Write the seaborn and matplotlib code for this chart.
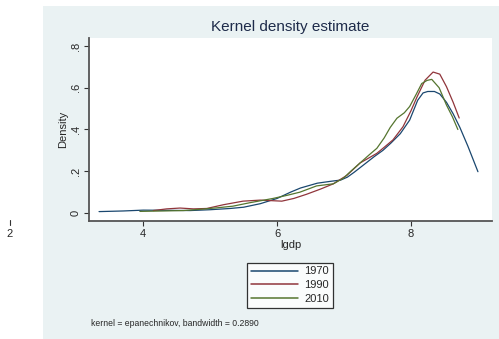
"""
plot.py - Stata-style kernel density chart of lgdp by year
"""

import matplotlib

matplotlib.use("Agg")

import matplotlib.pyplot as plt
from matplotlib.patches import Rectangle
from matplotlib.lines import Line2D
import pandas as pd
import seaborn as sns


# density curves
x_1970 = [3.34, 3.7, 4.0, 4.4, 4.7, 5.0, 5.3, 5.5, 5.75, 6.0, 6.2, 6.35, 6.6, 6.8, 6.95,
          7.05, 7.15, 7.25, 7.35, 7.45, 7.58, 7.7, 7.84, 7.98, 8.1, 8.18, 8.25, 8.35,
          8.43, 8.53, 8.63, 8.73, 8.85, 9.0]
d_1970 = [0.007, 0.010, 0.014, 0.013, 0.012, 0.016, 0.022, 0.028, 0.045, 0.07, 0.10, 0.12,
          0.143, 0.152, 0.158, 0.172, 0.195, 0.22, 0.245, 0.27, 0.30, 0.335, 0.38, 0.445,
          0.54, 0.575, 0.582, 0.582, 0.57, 0.53, 0.475, 0.41, 0.32, 0.198]

x_1990 = [4.15, 4.35, 4.55, 4.75, 4.95, 5.2, 5.49, 5.75, 6.07, 6.25, 6.44, 6.65, 6.84, 7.04,
          7.24, 7.35, 7.49, 7.6, 7.73, 7.88, 8.0, 8.09, 8.21, 8.33, 8.43, 8.53, 8.63, 8.72]
d_1990 = [0.012, 0.02, 0.024, 0.02, 0.022, 0.04, 0.057, 0.062, 0.057, 0.07, 0.09, 0.115,
          0.14, 0.18, 0.24, 0.26, 0.286, 0.315, 0.35, 0.413, 0.49, 0.556, 0.636, 0.675,
          0.665, 0.605, 0.53, 0.455]

x_2010 = [3.95, 4.3, 4.6, 4.85, 5.1, 5.34, 5.6, 5.94, 6.15, 6.34, 6.59, 6.84, 6.99, 7.1,
          7.24, 7.38, 7.49, 7.6, 7.69, 7.79, 7.9, 7.98, 8.08, 8.16, 8.24, 8.31, 8.42, 8.53,
          8.62, 8.70]
d_2010 = [0.008, 0.01, 0.012, 0.018, 0.025, 0.033, 0.05, 0.07, 0.085, 0.10, 0.13, 0.14,
          0.167, 0.2, 0.24, 0.28, 0.31, 0.36, 0.41, 0.454, 0.48, 0.51, 0.57, 0.62, 0.635,
          0.64, 0.60, 0.517, 0.46, 0.40]

years = ["1970", "1990", "2010"]
x_ticks = [4, 6, 8]
y_ticks = [0, 0.2, 0.4, 0.6, 0.8]
y_tick_labels = ["0", ".2", ".4", ".6", ".8"]

COLORS = ["#1a476f", "#90353b", "#55752f"]
REGION_BG = "#eaf2f3"


def build_frame():
    parts = []
    for year, xs, ds in zip(years, [x_1970, x_1990, x_2010], [d_1970, d_1990, d_2010]):
        parts.append(pd.DataFrame({"lgdp": xs, "Density": ds, "year": year}))
    return pd.concat(parts, ignore_index=True)


def main():
    sns.set_style("white")
    plt.rcParams["font.family"] = ["Liberation Sans", "DejaVu Sans"]

    df = build_frame()

    fig = plt.figure(figsize=(4.99, 3.39), dpi=100, facecolor="white")
    fig.patches.append(Rectangle((43 / 499, 0), 456 / 499, 333 / 339,
                                 transform=fig.transFigure, facecolor=REGION_BG,
                                 edgecolor="none", zorder=-10))

    ax = fig.add_axes([89 / 499, 1 - 221 / 339, 403 / 499, 183 / 339])
    ax.set_facecolor("white")
    ax.set_zorder(1)

    sns.lineplot(data=df, x="lgdp", y="Density", hue="year", palette=COLORS,
                 estimator=None, sort=False, linewidth=0.9, ax=ax)

    ax.set_xlim(3.19, 9.21)
    ax.set_ylim(-0.038, 0.838)
    ax.set_xticks(x_ticks)
    ax.set_xticklabels([str(t) for t in x_ticks])
    ax.set_yticks(y_ticks)
    ax.set_yticklabels(y_tick_labels, rotation=90, va="center")

    for side in ["top", "right"]:
        ax.spines[side].set_visible(False)
    for side in ["left", "bottom"]:
        ax.spines[side].set_color("#555555")
        ax.spines[side].set_linewidth(1.3)
    ax.tick_params(axis="both", direction="out", length=3.5, width=0.8, color="#333333",
                   labelsize=8, pad=2.5, left=True, bottom=True)

    ax.set_xlabel("lgdp", fontsize=8, labelpad=0.5)
    ax.set_ylabel("Density", fontsize=8, labelpad=2)
    ax.set_title("Kernel density estimate", fontsize=11, color="#1e2b4a", pad=5)

    handles, labels = ax.get_legend_handles_labels()
    ax.get_legend().remove()
    leg = fig.legend(handles, labels, loc="upper center", bbox_to_anchor=(290 / 499, 1 - 257 / 339),
                     fontsize=8, frameon=True, fancybox=False, handlelength=4.2,
                     labelspacing=0.35, borderpad=0.35, handletextpad=0.6)
    leg.get_frame().set_edgecolor("black")
    leg.get_frame().set_linewidth(0.9)
    leg.get_frame().set_facecolor("white")
    for line in leg.get_lines():
        line.set_linewidth(1.1)

    fig.text(91 / 499, 1 - 323 / 339, "kernel = epanechnikov, bandwidth = 0.2890",
             fontsize=6.2, ha="left", va="center")

    # stray tick and label at the far left
    fig.lines.append(Line2D([9.5 / 499, 9.5 / 499], [1 - 220 / 339, 1 - 225 / 339],
                            transform=fig.transFigure, color="#333333", linewidth=0.8))
    fig.text(9.5 / 499, 1 - 234 / 339, "2", fontsize=8, ha="center", va="center")

    fig.savefig("out.png", dpi=100, facecolor="white")
    plt.close(fig)


if __name__ == "__main__":
    main()
